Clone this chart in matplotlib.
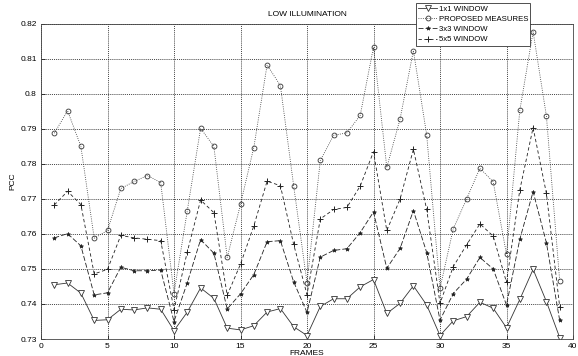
import numpy as np
import matplotlib
matplotlib.use("Agg")
import matplotlib.pyplot as plt

# frames 1..39
frames = list(range(1, 40))

# PCC valores
win1x1 = [0.7455, 0.7460, 0.7431, 0.7353, 0.7355, 0.7385, 0.7383, 0.7389, 0.7385, 0.7324,
          0.7377, 0.7446, 0.7416, 0.7331, 0.7326, 0.7338, 0.7377, 0.7387, 0.7335, 0.7310,
          0.7393, 0.7415, 0.7415, 0.7449, 0.7470, 0.7373, 0.7402, 0.7452, 0.7397, 0.7310,
          0.7352, 0.7364, 0.7405, 0.7388, 0.7332, 0.7413, 0.7499, 0.7407, 0.7304]
proposed = [0.7888, 0.7952, 0.7850, 0.7588, 0.7610, 0.7730, 0.7750, 0.7767, 0.7747, 0.7430,
            0.7667, 0.7902, 0.7850, 0.7533, 0.7685, 0.7847, 0.8083, 0.8024, 0.7737, 0.7461,
            0.7810, 0.7882, 0.7889, 0.7939, 0.8134, 0.7790, 0.7929, 0.8124, 0.7883, 0.7445,
            0.7615, 0.7700, 0.7788, 0.7749, 0.7542, 0.7953, 0.8178, 0.7937, 0.7466]
win3x3 = [0.7589, 0.7601, 0.7566, 0.7426, 0.7432, 0.7505, 0.7495, 0.7495, 0.7497, 0.7350,
          0.7461, 0.7584, 0.7545, 0.7386, 0.7429, 0.7484, 0.7578, 0.7581, 0.7463, 0.7376,
          0.7534, 0.7553, 0.7558, 0.7604, 0.7663, 0.7502, 0.7559, 0.7667, 0.7547, 0.7354,
          0.7430, 0.7471, 0.7533, 0.7500, 0.7397, 0.7585, 0.7721, 0.7575, 0.7353]
win5x5 = [0.7683, 0.7722, 0.7684, 0.7486, 0.7499, 0.7596, 0.7589, 0.7585, 0.7581, 0.7384,
          0.7549, 0.7697, 0.7661, 0.7425, 0.7514, 0.7623, 0.7751, 0.7738, 0.7570, 0.7427,
          0.7643, 0.7670, 0.7676, 0.7737, 0.7835, 0.7610, 0.7700, 0.7842, 0.7670, 0.7402,
          0.7507, 0.7569, 0.7629, 0.7594, 0.7462, 0.7726, 0.7904, 0.7716, 0.7392]

labels = ["1x1 WINDOW", "PROPOSED MEASURES", "3x3 WINDOW", "5x5 WINDOW"]
xticks = [0, 5, 10, 15, 20, 25, 30, 35, 40]
yticks = [0.73, 0.74, 0.75, 0.76, 0.77, 0.78, 0.79, 0.80, 0.81, 0.82]

plt.rcParams['font.family'] = ['Liberation Sans', 'DejaVu Sans']

fig = plt.figure(figsize=(5.78, 3.56), dpi=100)
ax = fig.add_axes([41/578, 1-339/356, 532/578, 315/356])

lw = 0.6
ax.plot(frames, win1x1, linestyle='-', color='#333333', lw=lw, marker='v',
        markersize=4, markerfacecolor='white', markeredgecolor='#333333', markeredgewidth=0.6, label=labels[0])
ax.plot(frames, proposed, linestyle=':', color='#333333', lw=lw, marker='o',
        markersize=3.5, markerfacecolor='none', markeredgecolor='#333333', markeredgewidth=0.6, label=labels[1])
ax.plot(frames, win3x3, linestyle=(0, (6, 2.5)), color='#222222', lw=lw, marker='*',
        markersize=3, markerfacecolor='#222222', markeredgecolor='#222222', markeredgewidth=0.5, label=labels[2])
ax.plot(frames, win5x5, linestyle=(0, (4, 3)), color='#222222', lw=lw, marker='+',
        markersize=5, markeredgewidth=0.7, label=labels[3])

ax.set_xlim(0, 40)
ax.set_ylim(0.73, 0.82)
ax.set_xticks(xticks)
ax.set_yticks(yticks)
ax.set_yticklabels(['%g' % v for v in yticks])
ax.grid(True, linestyle=(0, (1.5, 1.5)), color='black', lw=0.5)
ax.tick_params(direction='in', length=3, labelsize=6, width=0.5, pad=3)
for s in ax.spines.values():
    s.set_linewidth(0.6)
    s.set_color('#444444')

ax.set_title("LOW ILLUMINATION", fontsize=6, pad=6)
ax.set_ylabel("PCC", fontsize=6, labelpad=3)
ax.set_xlabel("FRAMES", fontsize=6, labelpad=0)

leg = ax.legend(loc='upper left', bbox_to_anchor=(416/578, 1-3/356), bbox_transform=fig.transFigure,
                fontsize=5.6, frameon=True, fancybox=False, edgecolor='#333333', framealpha=1,
                handlelength=2.4, handletextpad=0.2, borderpad=0.3, labelspacing=0.35, borderaxespad=0)
leg.get_frame().set_linewidth(0.6)

fig.savefig("out.png", dpi=100)
